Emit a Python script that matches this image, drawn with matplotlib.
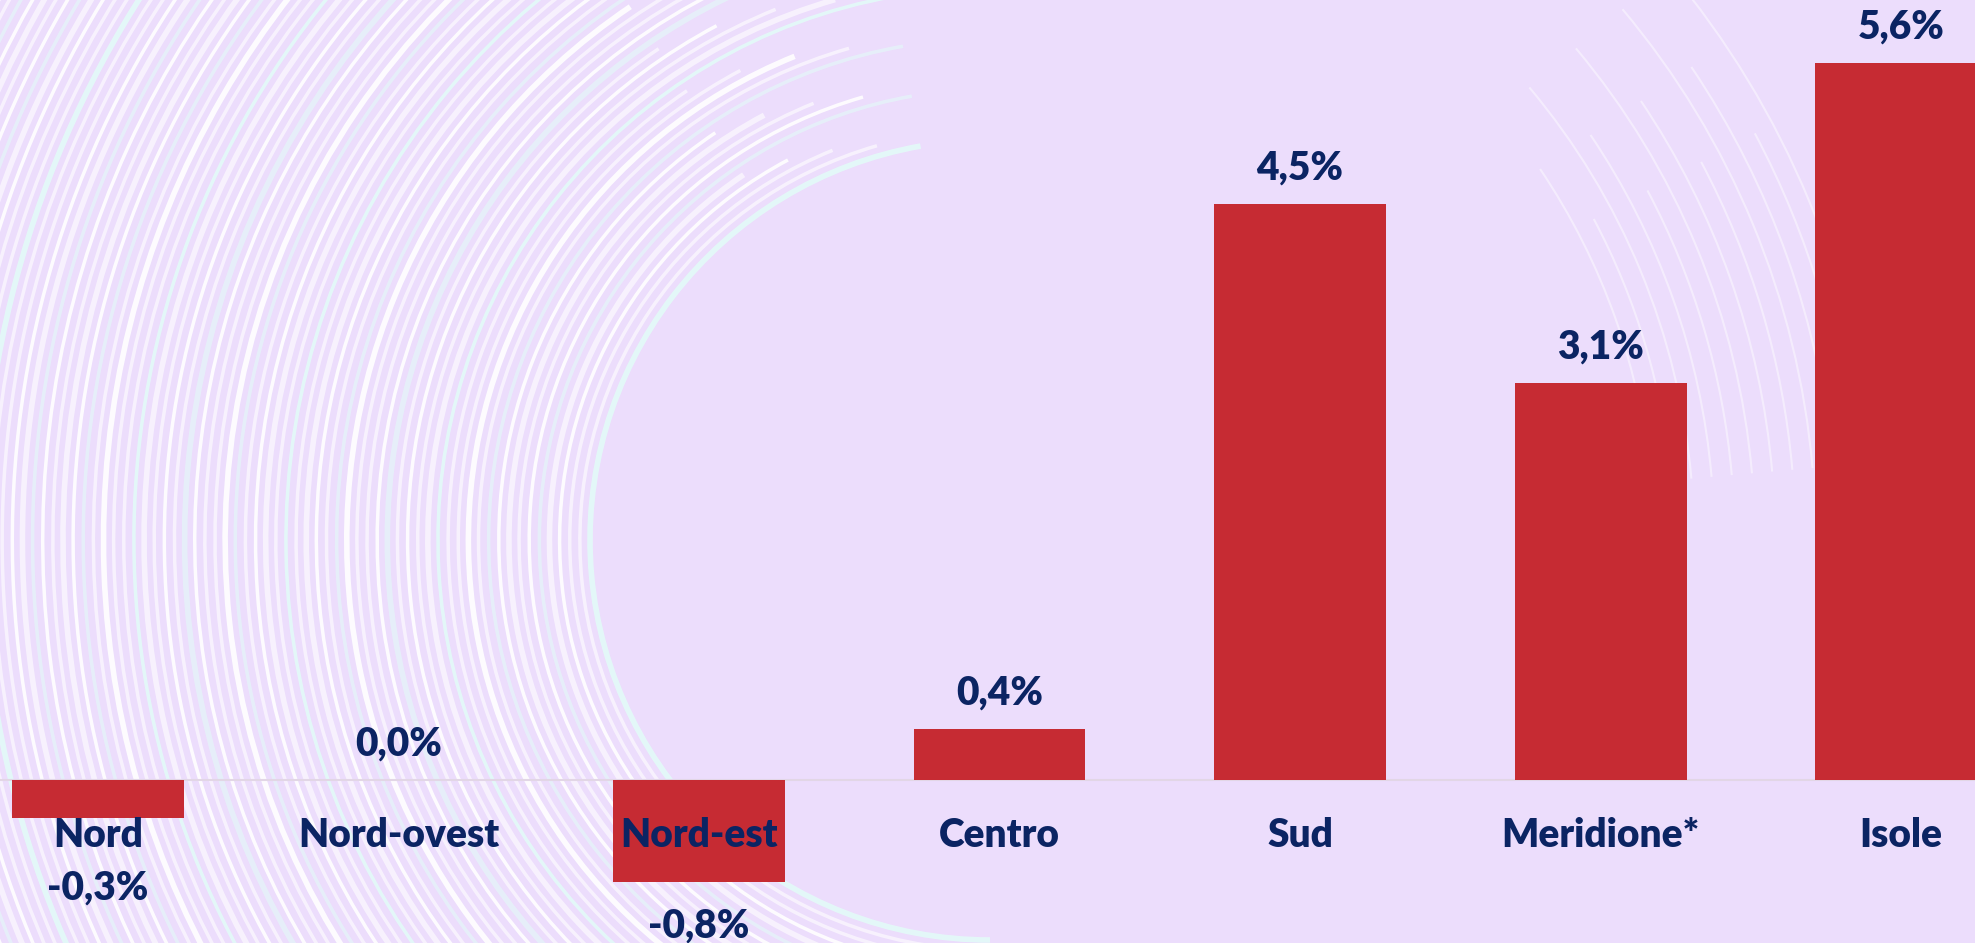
import numpy as np
import matplotlib.pyplot as plt
from matplotlib.patches import Arc

regions = ["Nord", "Nord-ovest", "Nord-est", "Centro", "Sud", "Meridione*", "Isole"]
values = [-0.3, 0.0, -0.8, 0.4, 4.5, 3.1, 5.6]
value_labels = ["-0,3%", "0,0%", "-0,8%", "0,4%", "4,5%", "3,1%", "5,6%"]

bar_color = "#C62B33"
text_color = "#0B2463"
bg_color = "#ECDDFC"

fig = plt.figure(figsize=(19.75, 9.43), dpi=100)
fig.patch.set_facecolor(bg_color)

# decorative swirl in the background
bg = fig.add_axes([0, 0, 1, 1], zorder=0)
bg.set_xlim(0, 1975)
bg.set_ylim(943, 0)
bg.axis("off")
bg.set_facecolor(bg_color)
cx, cy = 990, 540
for k, r in enumerate(np.linspace(400, 1150, 75)):
    alpha = 0.6 if k % 3 else 0.9
    lw = 2.5 if k % 4 else 4
    col = "white" if k % 5 else "#E3FBF8"
    bg.add_patch(Arc((cx, cy), 2 * r, 2 * r, theta1=90 + (k % 7) * 4, theta2=260 - (k % 5) * 6,
                     color=col, lw=lw, alpha=alpha))
    if k % 2 == 0 and 650 < r < 900:
        bg.add_patch(Arc((cx, cy), 2 * r, 2 * r, theta1=-40 + (k % 6) * 3, theta2=-5,
                         color="white", lw=1.5, alpha=0.45))

ax = fig.add_axes([0, 0, 1, 1], zorder=1)
ax.patch.set_alpha(0)
x = np.arange(len(regions))
ax.bar(x, values, width=0.572, color=bar_color, zorder=2)
ax.axhline(0, color="#E2D6E6", lw=1.5, zorder=1)
ax.set_xlim(-0.326, 6.246)
ax.set_ylim(-1.273, 6.094)
ax.axis("off")

font = dict(family=["Lato", "DejaVu Sans"], fontweight="heavy", color=text_color, fontsize=28)

for xi, name in zip(x, regions):
    ax.text(xi, -0.43, name, ha="center", va="center", zorder=3, **font)

for xi, v, lab in zip(x, values, value_labels):
    if v >= 0:
        ax.text(xi, v + 0.28, lab, ha="center", va="center", zorder=3, **font)
    else:
        ax.text(xi, min(v - 0.34, -0.84), lab, ha="center", va="center", zorder=3, **font)

fig.savefig("out.png", dpi=100, facecolor=fig.get_facecolor())
